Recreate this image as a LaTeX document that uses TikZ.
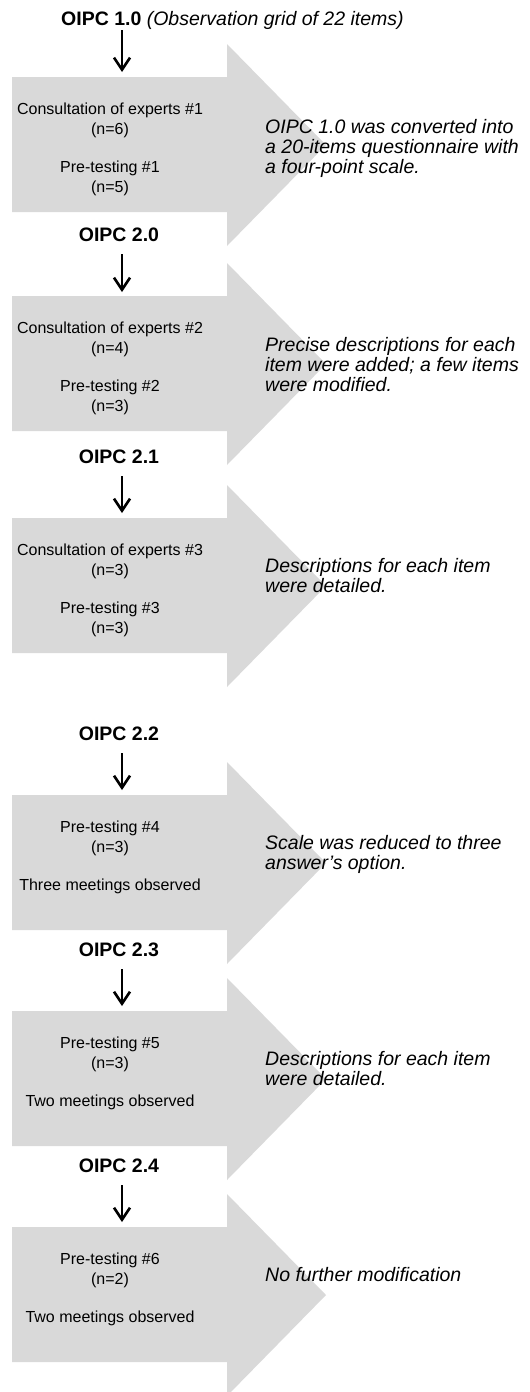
\documentclass[tikz,border=0pt]{standalone}
\usepackage{fontspec}
\setmainfont{Liberation Sans}
\usetikzlibrary{arrows.meta}
\definecolor{boxgray}{RGB}{217,217,217}
\tikzset{
  lbl/.style={font=\fontsize{19.5}{20}\selectfont\bfseries, inner sep=0pt, anchor=base},
  titletext/.style={font=\fontsize{19.5}{20}\selectfont, inner sep=0pt, anchor=base west},
  desc/.style={font=\fontsize{19.5}{20}\selectfont\itshape, inner sep=0pt, anchor=base west},
  info/.style={font=\fontsize{16}{20.5}\selectfont, inner sep=0pt, anchor=base},
  downarrow/.style={-{Straight Barb[length=12pt,width=16pt]}, line width=2.6pt, shorten <=13pt},
  bigarrow/.style={fill=boxgray}
}
\begin{document}
\begin{tikzpicture}[x=1pt,y=-1pt]
\clip (0,0) rectangle (530,1392);
% big process arrows
\foreach \t in {44,263,485,762,978,1194}
  \fill[bigarrow] (12,\t+33) -- (227,\t+33) -- (227,\t) -- (326,\t+101)
     -- (227,\t+202) -- (227,\t+168) -- (12,\t+168) -- cycle;
% targets of the small down arrows
\coordinate (e1) at (122,72);
\coordinate (e2) at (122,292);
\coordinate (e3) at (122,513);
\coordinate (e4) at (122,790);
\coordinate (e5) at (122,1006);
\coordinate (e6) at (122,1222);
% version labels
\node[titletext] (t0) at (61,25) {\textbf{OIPC 1.0} \textit{(Observation grid of 22 items)}};
\node[lbl] (l1) at (119,241) {OIPC 2.0};
\node[lbl] (l2) at (119,463) {OIPC 2.1};
\node[lbl] (l3) at (119,740) {OIPC 2.2};
\node[lbl] (l4) at (119,956) {OIPC 2.3};
\node[lbl] (l5) at (119,1172) {OIPC 2.4};
% down arrows
\draw[downarrow, shorten <=1pt] (t0.south -| e1) -- (e1);
\draw[downarrow] (l1.south -| e2) -- (e2);
\draw[downarrow] (l2.south -| e3) -- (e3);
\draw[downarrow] (l3.south -| e4) -- (e4);
\draw[downarrow] (l4.south -| e5) -- (e5);
\draw[downarrow] (l5.south -| e6) -- (e6);
% stage contents
\node[info] (c1) at (110,114) {\begin{tabular}[t]{@{}c@{}}Consultation of experts \#1\\(n=6)\end{tabular}};
\node[info] (p1) at (110,172) {\begin{tabular}[t]{@{}c@{}}Pre-testing \#1\\(n=5)\end{tabular}};
\node[info] (c2) at (110,333) {\begin{tabular}[t]{@{}c@{}}Consultation of experts \#2\\(n=4)\end{tabular}};
\node[info] (p2) at (110,391) {\begin{tabular}[t]{@{}c@{}}Pre-testing \#2\\(n=3)\end{tabular}};
\node[info] (c3) at (110,555) {\begin{tabular}[t]{@{}c@{}}Consultation of experts \#3\\(n=3)\end{tabular}};
\node[info] (p3) at (110,613) {\begin{tabular}[t]{@{}c@{}}Pre-testing \#3\\(n=3)\end{tabular}};
\node[info] (p4) at (110,832) {\begin{tabular}[t]{@{}c@{}}Pre-testing \#4\\(n=3)\end{tabular}};
\node[info] (m4) at (110,890) {Three meetings observed};
\node[info] (p5) at (110,1048) {\begin{tabular}[t]{@{}c@{}}Pre-testing \#5\\(n=3)\end{tabular}};
\node[info] (m5) at (110,1106) {Two meetings observed};
\node[info] (p6) at (110,1264) {\begin{tabular}[t]{@{}c@{}}Pre-testing \#6\\(n=2)\end{tabular}};
\node[info] (m6) at (110,1322) {Two meetings observed};
% outcomes
\node[desc] (d1) at (265,133) {\begin{tabular}[t]{@{}l@{}}OIPC 1.0 was converted into\\a 20-items questionnaire with\\a four-point scale.\end{tabular}};
\node[desc] (d2) at (265,351) {\begin{tabular}[t]{@{}l@{}}Precise descriptions for each\\item were added; a few items\\were modified.\end{tabular}};
\node[desc] (d3) at (265,572) {\begin{tabular}[t]{@{}l@{}}Descriptions for each item\\were detailed.\end{tabular}};
\node[desc] (d4) at (265,849) {\begin{tabular}[t]{@{}l@{}}Scale was reduced to three\\answer’s option.\end{tabular}};
\node[desc] (d5) at (265,1065) {\begin{tabular}[t]{@{}l@{}}Descriptions for each item\\were detailed.\end{tabular}};
\node[desc] (d6) at (265,1281) {No further modification};
\end{tikzpicture}
\end{document}
